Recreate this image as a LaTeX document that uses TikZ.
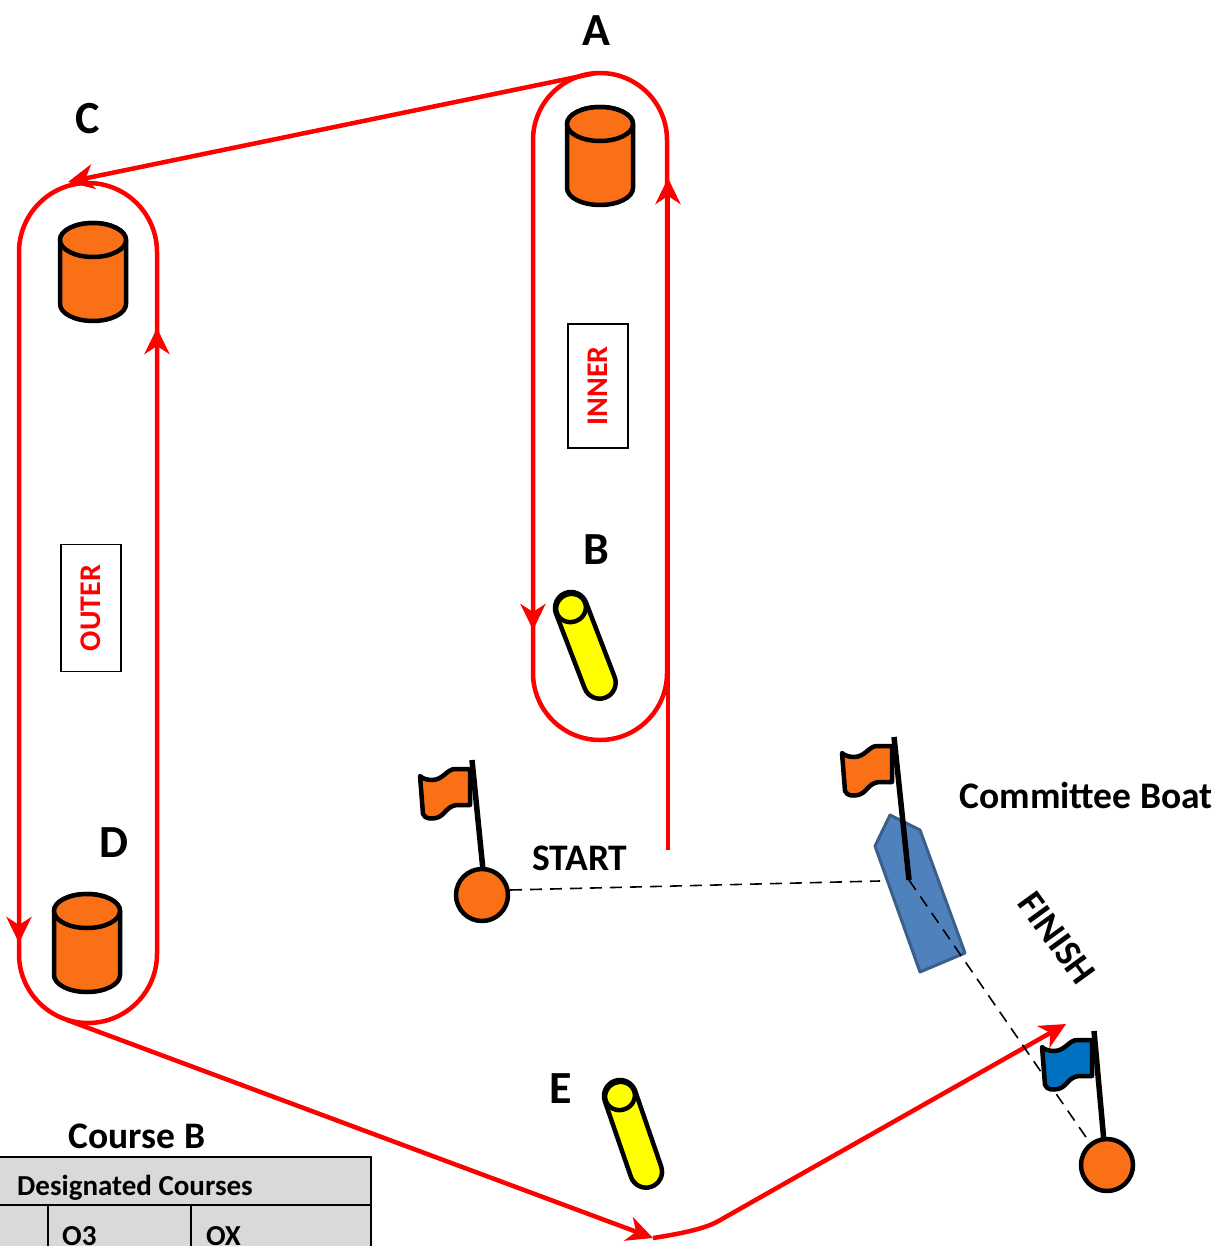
\documentclass[tikz,border=0pt]{standalone}
\usepackage{fontspec}
\setmainfont{Carlito}
\usetikzlibrary{arrows.meta}
\definecolor{buoyorange}{RGB}{250,112,22}
\definecolor{buoyyellow}{RGB}{255,255,0}
\definecolor{boatblue}{RGB}{79,129,189}
\definecolor{boatedge}{RGB}{58,95,139}
\definecolor{flagblue}{RGB}{0,112,192}
\definecolor{tablegray}{RGB}{217,217,217}
\tikzset{
  x=1pt,y=1pt,
  course/.style={draw=red,line width=4.5pt},
  tip/.style={course,-{Stealth[length=26pt,width=25pt,inset=8pt]}},
  markout/.style={draw=black,line width=4.5pt,line join=round},
  dashline/.style={draw=black,line width=1.6pt,dash pattern=on 12pt off 8pt},
  lbl/.style={font=\fontsize{46}{52}\selectfont\bfseries,inner sep=0pt},
  txt/.style={font=\fontsize{37.5}{42}\selectfont\bfseries,inner sep=0pt},
  tabtxt/.style={font=\fontsize{29}{34}\selectfont\bfseries,inner sep=0pt,anchor=west},
  sidebox/.style={draw=black,line width=1.5pt,minimum width=60pt,minimum height=124pt,inner sep=0pt},
  sidetxt/.style={text=red,font=\fontsize{30}{34}\selectfont\bfseries,rotate=90},
  cylinder mark/.pic={
    \path[markout,fill=buoyorange] (-33,0) -- (-33,-64) arc[start angle=180,end angle=360,x radius=33,y radius=17] -- (33,0) arc[start angle=0,end angle=180,x radius=33,y radius=17] -- cycle;
    \path[markout,fill=buoyorange] (0,0) ellipse[x radius=33,y radius=17];
  },
  spar mark/.pic={
    \path[markout,fill=buoyyellow] (-16,0) -- (-16,-80) arc[start angle=180,end angle=360,radius=16] -- (16,0) arc[start angle=0,end angle=180,radius=16] -- cycle;
    \path[markout,fill=buoyyellow] (0,0) ellipse[x radius=15,y radius=14];
  },
}
% flag: #1 pole top, #2 pole bottom, #3 colour
\newcommand\sailflag[3]{%
  \begin{scope}[shift={(#1)}]
  \path[markout,fill=#3] (-2,-9) -- (-17,-9) .. controls (-25,-9) and (-29,-20) .. (-40,-20)
     .. controls (-46,-20) and (-50,-18) .. (-52,-16) -- (-49,-54)
     .. controls (-47,-59) and (-41,-59) .. (-36,-58)
     .. controls (-27,-56) and (-26,-46) .. (-15,-45) -- (-2,-45) -- cycle;
  \end{scope}
  \draw[draw=black,line width=5.5pt] (#1) -- (#2);
}
\begin{document}
\begin{tikzpicture}
\useasboundingbox (0,0) rectangle (1217,-1246);
\clip (0,0) rectangle (1217,-1246);

% ---------- outer racetrack (C / D) ----------
\draw[course] (19,-252) arc[start angle=180,end angle=0,radius=69]
  -- (157,-954) arc[start angle=0,end angle=-180,radius=69] -- cycle;
\draw[tip] (19,-880) -- (19,-943);
\draw[tip] (157,-400) -- (157,-328);

% ---------- inner racetrack (A / B) ----------
\coordinate (Atop) at (596,-73);
\draw[course] (533,-140) arc[start angle=180,end angle=0,radius=67]
  -- (667,-673) arc[start angle=0,end angle=-180,radius=67] -- cycle;
\draw[tip] (533,-560) -- (533,-630);
\coordinate (startup) at (668,-850);
\coordinate (rightup) at (668,-178);
\draw[tip] (startup) -- (rightup);

% A to C leg
\coordinate (Cin) at (68,-182);
\draw[tip] (Atop) -- (Cin);

% D to E leg and to finish
\coordinate (Dout) at (67,-1020);
\coordinate (Elow) at (653,-1238);
\coordinate (Ebend) at (722,-1219);
\coordinate (finarrow) at (1066,-1024);
\draw[tip] (Dout) -- (Elow);
\draw[course] (Elow) .. controls (685,-1233) and (708,-1228) .. (Ebend);
\draw[tip] (Ebend) -- (finarrow);

% ---------- course labels ----------
\node[sidebox] (innerbox) at (598,-386) {};
\node[sidetxt] at (innerbox.center) {INNER};
\node[sidebox,minimum height=127pt] (outerbox) at (91,-608) {};
\node[sidetxt] at (outerbox.center) {OUTER};

% ---------- marks ----------
\pic at (600,-124) {cylinder mark};
\pic at (93,-240) {cylinder mark};
\pic at (87,-911) {cylinder mark};
\pic[rotate=21] at (571,-608) {spar mark};
\pic[rotate=19] at (620,-1096) {spar mark};

\node[lbl] (labA) at (596,-31) {A};
\node[lbl] (labC) at (88,-119) {C};
\node[lbl] (labB) at (596,-550) {B};
\node[lbl] (labD) at (114,-843) {D};
\node[lbl] (labE) at (561,-1089) {E};

% ---------- committee boat ----------
\path[fill=boatblue,draw=boatedge,line width=3pt,line join=round]
  (890,-815) -- (920,-830) -- (965,-953) -- (920,-972) -- (875,-846) -- cycle;

% start line
\coordinate (pinbuoy) at (482,-895);
\coordinate (boatstart) at (880,-881);
\draw[dashline] (510,-890) -- (boatstart);
% finish line
\coordinate (cbflagbot) at (909,-880);
\coordinate (finbuoy) at (1107,-1165);
\draw[dashline] (cbflagbot) -- (1090,-1143);

% flags
\sailflag{472,-760}{483,-870}{buoyorange}
\sailflag{894,-737}{909,-880}{buoyorange}
\sailflag{1094,-1031}{1104,-1142}{flagblue}

\path[markout,fill=buoyorange] (pinbuoy) circle[radius=26];
\path[markout,fill=buoyorange] (finbuoy) circle[radius=26];

% texts
\node[txt] (starttxt) at (580,-858) {START};
\node[txt] (cbtxt) at (1086,-795) {Committee Boat};
\node[txt,rotate=-54] (fintxt) at (1057,-938) {FINISH};

% ---------- table ----------
\node[txt] (coursetxt) at (137,-1136) {Course B};
\path[fill=tablegray,draw=black,line width=2pt] (-2,-1157) rectangle (371,-1270);
\draw[black,line width=2pt] (-2,-1205) -- (371,-1205);
\draw[black,line width=2pt] (48,-1205) -- (48,-1270);
\draw[black,line width=2pt] (191,-1205) -- (191,-1270);
\node[tabtxt] (destxt) at (17,-1188) {Designated Courses};
\node[tabtxt] (o3) at (62,-1236) {O3};
\node[tabtxt] (ox) at (206,-1236) {OX};
\end{tikzpicture}
\end{document}
